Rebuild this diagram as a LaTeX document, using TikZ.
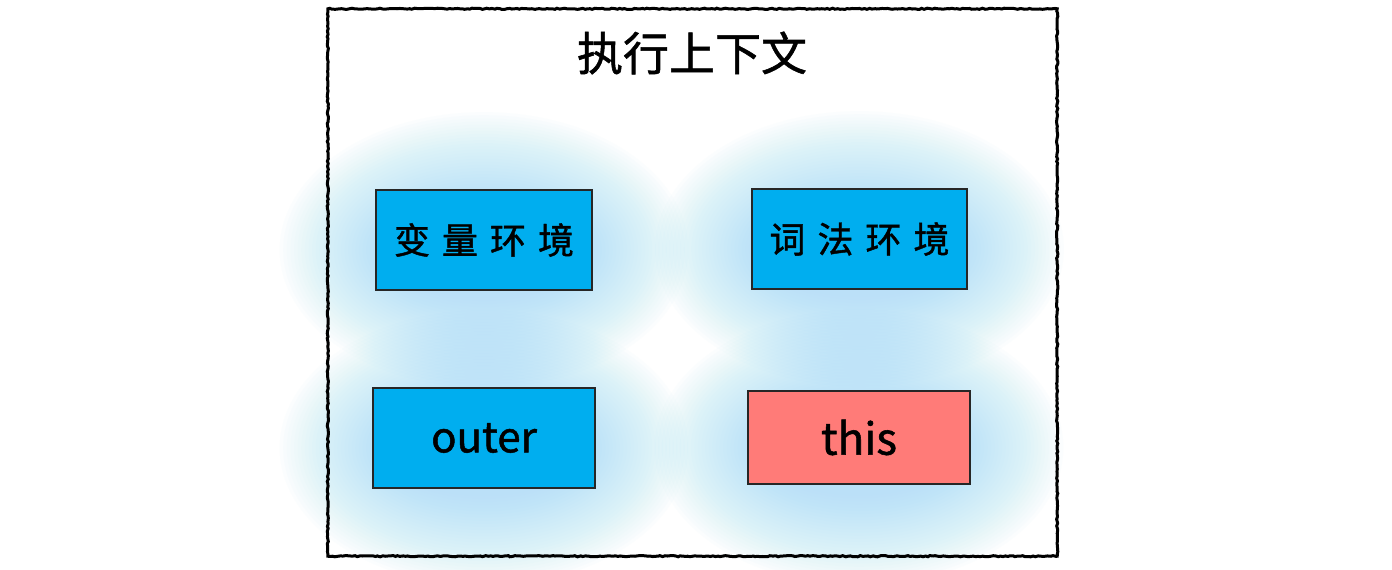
\documentclass[tikz,border=0pt]{standalone}
\usepackage{fontspec}
\newfontfamily\cjk[FakeBold=1.2]{Noto Sans CJK SC}
\usetikzlibrary{calc,decorations.pathmorphing,backgrounds}
\definecolor{boxblue}{HTML}{00AEEF}
\definecolor{boxred}{HTML}{FF7B78}
\definecolor{glowblue}{HTML}{A4E0F8}
\tikzset{
  sketch/.style={decorate,decoration={random steps,segment length=2.5pt,amplitude=0.6pt}},
  envbox/.style={draw=black!85,line width=1.4pt,fill=boxblue,inner sep=0pt,font=\cjk\fontsize{36}{36}\selectfont},
  redbox/.style={envbox,fill=boxred},
  frame/.style={draw=black,line width=3pt,inner sep=0pt},
  titletext/.style={font=\cjk\fontsize{46}{46}\selectfont,inner sep=0pt},
  glowlayer/.style={glowblue,fill opacity=0.034}
}
\newcommand{\csp}{\hspace{12pt}}
\begin{document}
\begin{tikzpicture}[x=1pt,y=-1pt]
\useasboundingbox (0,0) rectangle (1392,570);
\node[minimum width=729pt,minimum height=547pt,inner sep=0pt] (F) at (692.5,282.5) {};
\node[titletext] (T) at (692,53) {执行上下文};
\node[envbox,minimum width=216pt,minimum height=100pt] (A) at (484,240) {变\csp 量\csp 环\csp 境};
\node[envbox,minimum width=215pt,minimum height=100pt] (B) at (859.5,239) {词\csp 法\csp 环\csp 境};
\node[envbox,minimum width=222pt,minimum height=100pt,font=\cjk\fontsize{42}{42}\selectfont] (C) at (484,438) {outer};
\node[redbox,minimum width=222pt,minimum height=93pt,font=\cjk\fontsize{44}{44}\selectfont] (D) at (859,437.5) {this};
\draw[frame,sketch] (F.north west) rectangle (F.south east);
\begin{scope}[on background layer]
  \fill[white] (0,0) rectangle (1392,570);
  \foreach \n in {A,B,C,D}{
    \foreach \i in {0,...,29}{
      \pgfmathsetmacro\rx{100+\i*3.6}
      \pgfmathsetmacro\ry{48+\i*3.1}
      \fill[glowlayer] ($(\n.center)+(0pt,-10pt)$) ellipse [x radius=\rx pt, y radius=\ry pt];
    }
  }
\end{scope}
\end{tikzpicture}
\end{document}
